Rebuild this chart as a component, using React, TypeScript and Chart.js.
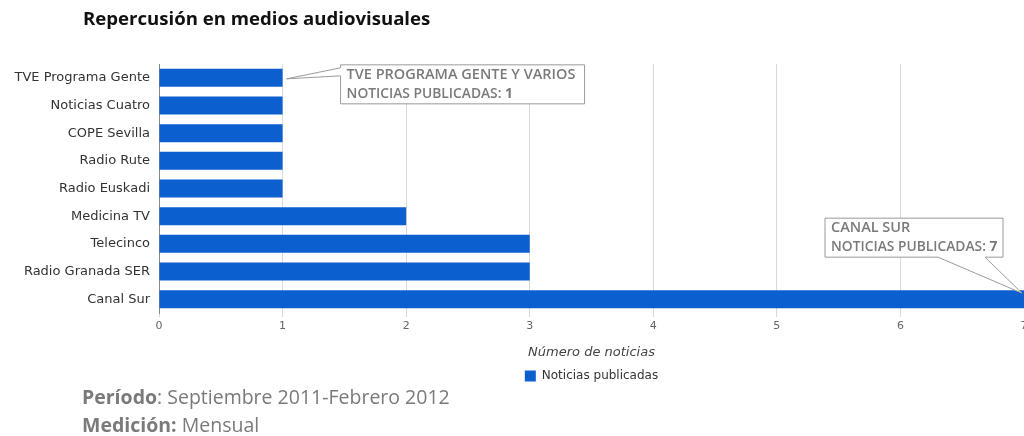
import React, { useEffect, useRef } from "react";
import { Chart, registerables } from "chart.js";

Chart.register(...registerables);

const categories = [
  "TVE Programa Gente",
  "Noticias Cuatro",
  "COPE Sevilla",
  "Radio Rute",
  "Radio Euskadi",
  "Medicina TV",
  "Telecinco",
  "Radio Granada SER",
  "Canal Sur",
];
const values = [1, 1, 1, 1, 1, 2, 3, 3, 7];
const seriesName = "Noticias publicadas";
const xTicks = [0, 1, 2, 3, 4, 5, 6, 7];
const axisTitle = "Número de noticias";
const chartTitle = "Repercusión en medios audiovisuales";
const calloutIndexes = [0, 8];
const calloutHeads = ["TVE PROGRAMA GENTE Y VARIOS", "CANAL SUR"];
const calloutLabel = "NOTICIAS PUBLICADAS: ";
const footerLines = [
  ["Período", ": Septiembre 2011-Febrero 2012"],
  ["Medición:", " Mensual"],
];

const BLUE = "#0c5fce";

const decorPlugin = {
  id: "decor",
  afterDatasetsDraw(chart: any) {
    const ctx = chart.ctx;
    const meta = chart.getDatasetMeta(0);
    ctx.save();
    calloutIndexes.forEach((idx, k) => {
      const el = meta.data[idx];
      let L: number, T: number, W: number, H: number;
      let ax: number, ay: number;
      ctx.beginPath();
      if (k === 0) {
        ax = el.x + 4;
        ay = el.y + 1;
        L = el.x + 58;
        T = el.y - 13;
        W = 244;
        H = 39;
        ctx.moveTo(L, T);
        ctx.lineTo(L + W, T);
        ctx.lineTo(L + W, T + H);
        ctx.lineTo(L, T + H);
        ctx.lineTo(L, T + 11);
        ctx.lineTo(ax, ay);
        ctx.lineTo(L, T + 3);
        ctx.closePath();
      } else {
        ax = el.x - 2;
        ay = el.y - 6;
        L = el.x - 199;
        T = el.y - 81;
        W = 178;
        H = 39;
        ctx.moveTo(L, T);
        ctx.lineTo(L + W, T);
        ctx.lineTo(L + W, T + H);
        ctx.lineTo(L + 160, T + H);
        ctx.lineTo(ax, ay);
        ctx.lineTo(L + 113, T + H);
        ctx.lineTo(L, T + H);
        ctx.closePath();
      }
      ctx.fillStyle = "#ffffff";
      ctx.fill();
      ctx.strokeStyle = "#9a9a9a";
      ctx.lineWidth = 1;
      ctx.stroke();
      ctx.fillStyle = "#7a7a7a";
      ctx.textBaseline = "middle";
      ctx.textAlign = "left";
      ctx.font = "600 14.5px 'Open Sans'";
      ctx.fillText(calloutHeads[k], L + 6, T + 10);
      ctx.font = "600 13.8px 'Open Sans'";
      ctx.fillText(calloutLabel, L + 6, T + 29);
      const w = ctx.measureText(calloutLabel).width;
      ctx.font = "bold 13.8px 'Open Sans'";
      ctx.fillText(String(values[idx]), L + 6 + w, T + 29);
    });
    ctx.restore();
  },
  afterDraw(chart: any) {
    const ctx = chart.ctx;
    ctx.save();
    ctx.textBaseline = "middle";
    ctx.textAlign = "left";
    ctx.fillStyle = "#111111";
    ctx.font = "bold 18.6px 'Open Sans'";
    ctx.fillText(chartTitle, 83, 20);
    ctx.fillStyle = "#7a7a7a";
    footerLines.forEach((parts, i) => {
      const y = 398 + i * 28;
      ctx.font = "bold 19.5px 'Open Sans'";
      ctx.fillText(parts[0], 82, y);
      const w = ctx.measureText(parts[0]).width;
      ctx.font = "19.5px 'Open Sans'";
      ctx.fillText(parts[1], 82 + w, y);
    });
    ctx.restore();
  },
};

export default function App() {
  const ref = useRef<HTMLCanvasElement | null>(null);
  useEffect(() => {
    if (!ref.current) return;
    const chart = new Chart(ref.current, {
      type: "bar",
      data: {
        labels: categories,
        datasets: [
          {
            label: seriesName,
            data: values,
            backgroundColor: BLUE,
            borderWidth: 0,
            categoryPercentage: 0.65,
            barPercentage: 1,
          },
        ],
      },
      options: {
        indexAxis: "y",
        responsive: false,
        animation: false,
        layout: { padding: { top: 64, right: 0, left: 0, bottom: 44 } },
        plugins: {
          legend: {
            display: true,
            position: "bottom",
            fullSize: false,
            labels: {
              boxWidth: 11,
              boxHeight: 11,
              padding: 10,
              color: "#333",
              font: { family: "'DejaVu Sans'", size: 12 },
            },
          },
          tooltip: { enabled: false },
          title: { display: false },
        },
        scales: {
          x: {
            type: "linear",
            min: 0,
            max: 7,
            afterBuildTicks: (scale: any) => {
              scale.ticks = xTicks.map((v) => ({ value: v }));
            },
            afterFit: (scale: any) => {
              scale.height = 47;
              scale.paddingRight = 0;
              scale.paddingLeft = 0;
            },
            grid: {
              color: "#d9d9d9",
              drawTicks: true,
              tickLength: 4,
            },
            border: { display: false },
            ticks: {
              padding: 3,
              color: "#666",
              font: { family: "'DejaVu Sans'", size: 11 },
            },
            title: {
              display: true,
              text: axisTitle,
              color: "#444",
              padding: 0,
              font: { family: "'DejaVu Sans'", size: 13, style: "italic" },
            },
          },
          y: {
            afterFit: (scale: any) => {
              scale.width = 159;
            },
            grid: { display: false, drawTicks: false },
            border: { display: true, color: "#8a8a8a", width: 1 },
            ticks: {
              padding: 9,
              color: "#333",
              font: { family: "'DejaVu Sans'", size: 13 },
            },
          },
        },
      },
      plugins: [decorPlugin],
    } as any);
    return () => chart.destroy();
  }, []);
  return (
    <div style={{ position: "absolute", left: 0, top: 0, width: 1024, height: 436, background: "#fff" }}>
      <canvas ref={ref} width={1024} height={436} style={{ display: "block" }} />
    </div>
  );
}
